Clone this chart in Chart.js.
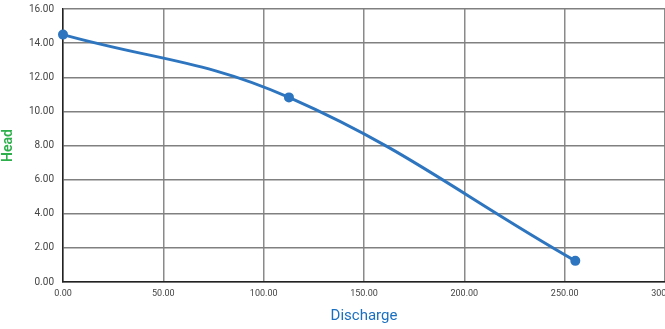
<!DOCTYPE html>
<html>
<head>
<meta charset="utf-8">
<script src="https://cdn.jsdelivr.net/npm/chart.js@4/dist/chart.umd.min.js"></script>
<style>
    html, body { margin: 0; padding: 0; background: #fff; }
    #wrap { width: 665px; height: 329px; position: relative; }
</style>
</head>
<body>
<div id="wrap"><canvas id="curveChart"></canvas></div>
<script>
// datos
const discharge = [0, 112.6, 255.3];
const head = [14.5, 10.82, 1.24];
const xTicks = [0, 50, 100, 150, 200, 250, 300];
const yTicks = [0, 2, 4, 6, 8, 10, 12, 14, 16];

const lineColor = '#2e75c0';

document.addEventListener('DOMContentLoaded', function() {
    const ctx = document.getElementById('curveChart');

    new Chart(ctx.getContext('2d'), {
        type: 'scatter',
        data: {
            datasets: [{
                data: discharge.map((x, i) => ({ x: x, y: head[i] })),
                showLine: true,
                borderColor: lineColor,
                backgroundColor: lineColor,
                borderWidth: 3,
                pointRadius: 3.5,
                tension: 0.4,
                clip: false
            }]
        },
        options: {
            responsive: true,
            maintainAspectRatio: false,
            animation: false,
            layout: {
                autoPadding: false,
                padding: { top: 9, right: 0, left: 0, bottom: 0 }
            },
            plugins: {
                legend: { display: false },
                tooltip: { enabled: false }
            },
            scales: {
                x: {
                    type: 'linear',
                    min: 0,
                    max: 300,
                    afterBuildTicks: axis => { axis.ticks = xTicks.map(v => ({ value: v })); },
                    afterFit: axis => {
                        axis.height = 47;
                        axis.paddingRight = 0;
                        axis.paddingLeft = 0;
                    },
                    grid: {
                        color: '#8a8a8a',
                        lineWidth: 1.5,
                        drawTicks: false
                    },
                    border: { color: '#222', width: 1.5 },
                    ticks: {
                        color: '#444',
                        padding: 6,
                        maxRotation: 0,
                        font: { family: 'Liberation Sans Narrow, Roboto', size: 9 },
                        callback: v => v.toFixed(2)
                    },
                    title: {
                        display: true,
                        text: 'Discharge',
                        color: '#1a70c0',
                        font: { family: 'Roboto', size: 15 },
                        padding: { top: 6, bottom: 4 }
                    }
                },
                y: {
                    min: 0,
                    max: 16,
                    afterBuildTicks: axis => { axis.ticks = yTicks.map(v => ({ value: v })); },
                    afterFit: axis => {
                        axis.width = 63;
                        axis.paddingTop = 0;
                        axis.paddingBottom = 0;
                    },
                    grid: {
                        color: '#808080',
                        lineWidth: 1.5,
                        drawTicks: false
                    },
                    border: { color: '#222', width: 1.5 },
                    ticks: {
                        color: '#444',
                        padding: 9,
                        font: { family: 'Roboto', size: 10 },
                        callback: v => v.toFixed(2)
                    },
                    title: {
                        display: true,
                        text: 'Head',
                        color: '#2db04b',
                        font: { family: 'Roboto', size: 14, weight: '600' },
                        padding: { top: 0, bottom: 4 }
                    }
                }
            }
        }
    });
});
</script>
</body>
</html>
